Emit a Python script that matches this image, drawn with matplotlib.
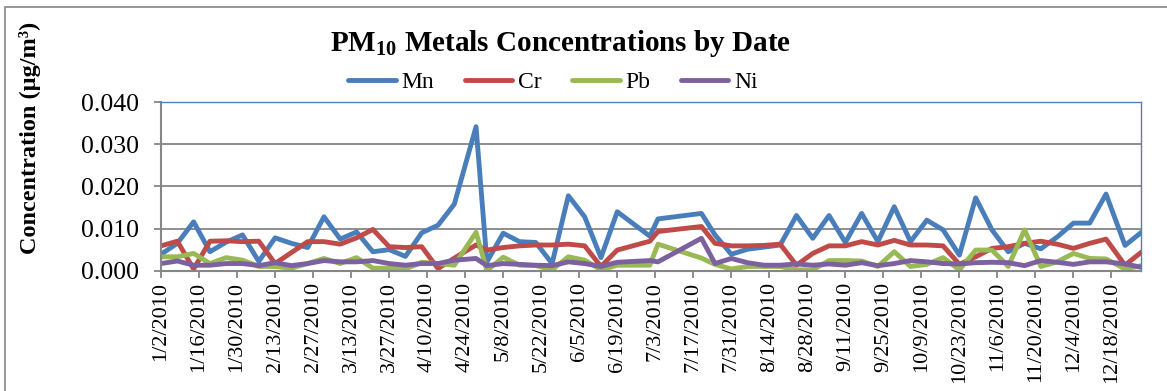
import matplotlib
matplotlib.use('Agg')
import matplotlib.pyplot as plt
from matplotlib.ticker import FormatStrFormatter
from matplotlib.patches import Rectangle
import numpy as np
import pandas as pd

plt.rcParams['font.family'] = ['Liberation Serif', 'DejaVu Serif']
plt.rcParams['mathtext.fontset'] = 'custom'
plt.rcParams['mathtext.rm'] = 'Liberation Serif'
plt.rcParams['mathtext.bf'] = 'Liberation Serif:bold'

# sampling dates (2010)
dates = ['2010-01-02', '2010-01-08', '2010-01-14', '2010-01-20', '2010-01-26',
         '2010-02-01', '2010-02-07', '2010-02-13', '2010-02-19', '2010-02-25',
         '2010-03-03', '2010-03-09', '2010-03-15', '2010-03-21', '2010-03-27',
         '2010-04-02', '2010-04-08', '2010-04-14', '2010-04-20', '2010-04-28',
         '2010-05-02', '2010-05-08', '2010-05-14', '2010-05-20', '2010-05-26',
         '2010-06-01', '2010-06-07', '2010-06-13', '2010-06-19', '2010-07-01',
         '2010-07-04', '2010-07-20', '2010-07-25', '2010-07-31', '2010-08-06',
         '2010-08-12', '2010-08-18', '2010-08-24', '2010-08-30', '2010-09-05',
         '2010-09-11', '2010-09-17', '2010-09-23', '2010-09-29', '2010-10-05',
         '2010-10-11', '2010-10-17', '2010-10-23', '2010-10-29', '2010-11-04',
         '2010-11-10', '2010-11-16', '2010-11-22', '2010-11-28', '2010-12-04',
         '2010-12-10', '2010-12-16', '2010-12-23', '2010-12-29']

mn = [0.0039, 0.0065, 0.0116, 0.0045, 0.0068, 0.0085, 0.0022, 0.0078, 0.0065, 0.0055,
      0.0128, 0.0075, 0.0092, 0.0045, 0.0050, 0.0034, 0.0090, 0.0108, 0.0158, 0.0342,
      0.0021, 0.0089, 0.0069, 0.0067, 0.0017, 0.0178, 0.0128, 0.0031, 0.0140, 0.0082,
      0.0123, 0.0136, 0.0085, 0.0039, 0.0051, 0.0056, 0.0061, 0.0131, 0.0077, 0.0131,
      0.0067, 0.0136, 0.0069, 0.0152, 0.0069, 0.0120, 0.0097, 0.0037, 0.0173, 0.0097,
      0.0045, 0.0065, 0.0052, 0.0080, 0.0113, 0.0113, 0.0182, 0.0060, 0.0091]

cr = [0.0059, 0.0070, 0.0004, 0.0070, 0.0071, 0.0069, 0.0070, 0.0017, 0.0043, 0.0069,
      0.0069, 0.0063, 0.0078, 0.0098, 0.0057, 0.0055, 0.0057, 0.0005, 0.0030, 0.0061,
      0.0049, 0.0055, 0.0059, 0.0061, 0.0061, 0.0063, 0.0059, 0.0010, 0.0049, 0.0070,
      0.0093, 0.0105, 0.0065, 0.0059, 0.0059, 0.0060, 0.0063, 0.0013, 0.0041, 0.0059,
      0.0059, 0.0069, 0.0061, 0.0072, 0.0061, 0.0061, 0.0059, 0.0015, 0.0033, 0.0053,
      0.0057, 0.0065, 0.0070, 0.0063, 0.0053, 0.0065, 0.0075, 0.0013, 0.0044]

pb = [0.0033, 0.0033, 0.0041, 0.0017, 0.0031, 0.0025, 0.0010, 0.0010, 0.0006, 0.0017,
      0.0029, 0.0017, 0.0031, 0.0006, 0.0006, 0.0004, 0.0020, 0.0017, 0.0013, 0.0091,
      0.0000, 0.0032, 0.0013, 0.0012, 0.0002, 0.0033, 0.0025, 0.0002, 0.0013, 0.0013,
      0.0063, 0.0030, 0.0015, 0.0004, 0.0010, 0.0010, 0.0010, 0.0002, 0.0002, 0.0024,
      0.0024, 0.0023, 0.0010, 0.0045, 0.0010, 0.0015, 0.0031, 0.0002, 0.0049, 0.0049,
      0.0010, 0.0097, 0.0010, 0.0021, 0.0041, 0.0029, 0.0028, 0.0004, 0.0012]

ni = [0.0017, 0.0023, 0.0013, 0.0013, 0.0017, 0.0017, 0.0012, 0.0019, 0.0012, 0.0017,
      0.0024, 0.0021, 0.0021, 0.0024, 0.0017, 0.0013, 0.0017, 0.0017, 0.0025, 0.0029,
      0.0012, 0.0017, 0.0015, 0.0013, 0.0012, 0.0021, 0.0017, 0.0010, 0.0020, 0.0024,
      0.0021, 0.0077, 0.0017, 0.0029, 0.0019, 0.0013, 0.0013, 0.0016, 0.0013, 0.0016,
      0.0013, 0.0019, 0.0012, 0.0017, 0.0024, 0.0021, 0.0017, 0.0016, 0.0019, 0.0020,
      0.0019, 0.0012, 0.0024, 0.0020, 0.0015, 0.0021, 0.0021, 0.0016, 0.0008]

series = [('Mn', mn, '#4A7EBB'), ('Cr', cr, '#BE4B48'),
          ('Pb', pb, '#98B954'), ('Ni', ni, '#7D60A0')]

x = pd.to_datetime(dates)
grey = '#868686'

fig = plt.figure(figsize=(11.67, 3.91), dpi=100)
ax = fig.add_axes([0.138, 0.3077, 0.840, 0.4307])

for name, vals, col in series:
    ax.plot(x, vals, color=col, lw=3.5, label=name,
            solid_joinstyle='round', solid_capstyle='round')

ax.set_ylim(0, 0.040)
ax.set_yticks(np.arange(0, 0.0401, 0.010))
ax.yaxis.set_major_formatter(FormatStrFormatter('%.3f'))
ax.grid(axis='y', color=grey, lw=1.3)
ax.set_axisbelow(True)

start = pd.Timestamp('2010-01-02')
end = pd.Timestamp('2010-12-29')
ax.set_xlim(start, end)
ticks = pd.date_range(start, end, freq='14D')
ax.set_xticks(ticks)
ax.set_xticklabels([f'{t.month}/{t.day}/{t.year}' for t in ticks], rotation=90)

ax.tick_params(axis='both', direction='out', color=grey, width=1.3, length=5)
ax.tick_params(axis='y', labelsize=18.5, pad=11)
ax.tick_params(axis='x', labelsize=16, pad=3)

for side in ['left', 'bottom']:
    ax.spines[side].set_color(grey)
    ax.spines[side].set_linewidth(1.5)
for side in ['top', 'right']:
    ax.spines[side].set_color('#4F81BD')
    ax.spines[side].set_linewidth(1.0)

fig.text(0.48, 0.888, r'PM$_{\mathbf{10}}$ Metals Concentrations by Date',
         ha='center', va='center', fontsize=21, fontweight='bold')
fig.text(0.026, 0.647, 'Concentration (µg/m³)', rotation=90,
         ha='center', va='center', fontsize=17.5, fontweight='bold')

fig.legend(loc='center', bbox_to_anchor=(0.474, 0.79), ncol=4, frameon=False,
           fontsize=17, handlelength=2.0, handletextpad=0.25, columnspacing=1.3)

# chart area border
fig.add_artist(Rectangle((5 / 1167, -0.1), 1.2, 1.1 - 7 / 391,
                         transform=fig.transFigure, fill=False,
                         edgecolor=grey, lw=1.2))

fig.savefig('out.png', dpi=100)
